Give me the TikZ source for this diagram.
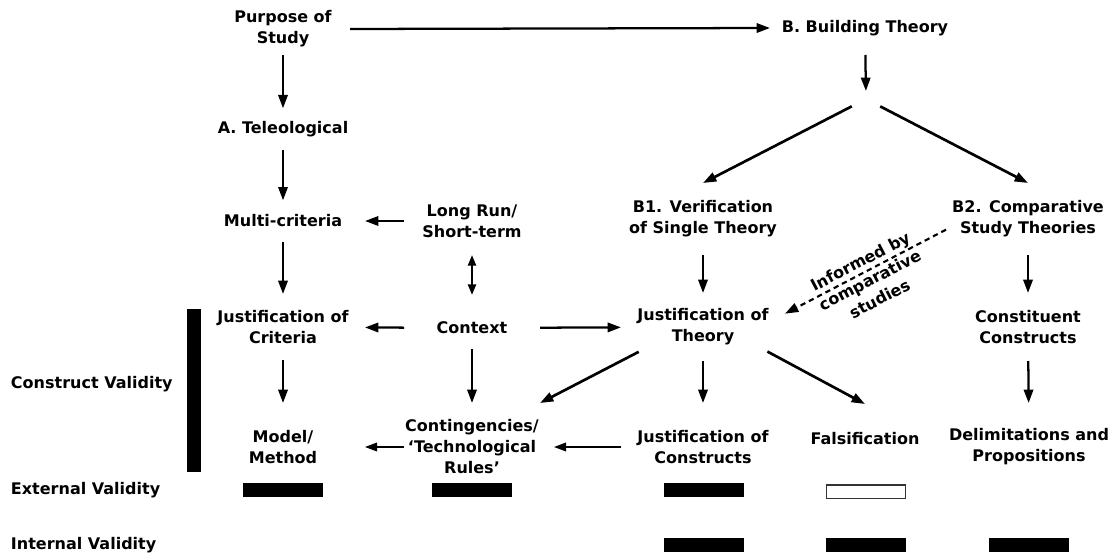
\documentclass[tikz,border=0pt]{standalone}
\usepackage{fontspec}
\setmainfont{DejaVu Sans}
\usetikzlibrary{arrows.meta}

\begin{document}
\begin{tikzpicture}[
			x = 0.75pt, y = -0.75pt,
			every node/.style = {font = \bfseries\fontsize{12pt}{15.75pt}\selectfont, align = center, inner sep = 0pt, outer sep = 0pt},
			col/.style = {minimum width = 123pt},
			mid/.style = {minimum width = 102pt},
			arr/.style = {-{Triangle[length = 10pt, width = 7pt]}, line width = 1.7pt},
			thinarr/.style = {-{Triangle[length = 9pt, width = 6.5pt]}, line width = 1pt},
			twoway/.style = {{Triangle[length = 8pt, width = 6pt]}-{Triangle[length = 8pt, width = 6pt]}, line width = 1.7pt},
			diag/.style = {arr, line width = 2pt},
			hint/.style = {arr, line width = 1.6pt, dash pattern = on 4pt off 3pt},
			bar/.style = {fill = black, minimum width = 60pt, minimum height = 10.5pt}]
			\useasboundingbox (0,0) rectangle (1116,556);

			\node[minimum width = 100.5pt, minimum height = 39pt] (purpose) at (283,29) {Purpose of\\Study};
			\node[minimum width = 142.5pt, minimum height = 40.5pt] (building) at (865,28) {B. Building Theory};
			\coordinate (split) at (866,99);
			\node[col, minimum height = 31pt] (tele) at (283,129) {A. Teleological};
			\node[col, minimum height = 31pt] (multi) at (283,221) {Multi-criteria};
			\node[mid, minimum height = 51pt] (longrun) at (472,221) {Long Run/\\Short-term};
			\node[col, minimum height = 54pt] (single) at (703,219) {B1. Verification\\of Single Theory};
			\node[col, minimum height = 54pt] (compare) at (1028,219) {B2. Comparative\\Study Theories};
			\node[col, minimum height = 49.5pt] (jcrit) at (283,327) {Justification of\\Criteria};
			\node[mid, minimum height = 49.5pt] (context) at (472,328) {Context};
			\node[col, minimum height = 51pt] (jtheory) at (703,327) {Justification of\\Theory};
			\node[col, minimum height = 51pt] (constit) at (1028,327) {Constituent\\Constructs};
			\node[col, minimum height = 66pt] (model) at (283,447) {Model/\\Method};
			\node[mid, minimum height = 66pt] (conting) at (472,447) {Contingencies/\\‘Technological\\Rules’};
			\node[col, minimum height = 66pt] (jcons) at (703,447) {Justification of\\Constructs};
			\node[col, minimum height = 52.5pt] (falsif) at (865,439) {Falsification};
			\node[col, minimum height = 66pt] (delim) at (1029,447) {Delimitations and\\Propositions};

			\draw[arr] (purpose.east) -- (building.west);
			\draw[arr, shorten >= 6pt] (building) -- (split);
			\draw[diag, shorten <= 12pt] (split) -- (single.north);
			\draw[diag, shorten <= 12pt] (split) -- (compare.north);
			\draw[arr] (purpose) -- (tele);
			\draw[arr] (tele) -- (multi);
			\draw[arr] (multi) -- (jcrit);
			\draw[arr] (jcrit) -- (model);
			\draw[arr] (longrun) -- (multi);
			\draw[twoway] (longrun) -- (context);
			\draw[arr] (context) -- (jcrit);
			\draw[arr] (context) -- (jtheory);
			\draw[arr, shorten <= -9pt] (context) -- (conting);
			\draw[thinarr] (conting) -- (model);
			\draw[thinarr, shorten >= 10.5pt] (jcons) -- (conting);
			\draw[arr] (single) -- (jtheory);
			\draw[arr] (compare) -- (constit);
			\draw[arr] (jtheory) -- (jcons);
			\draw[arr] (constit) -- (delim);
			\draw[diag, shorten <= -15pt] (jtheory.south west) -- (conting.north east);
			\draw[diag, shorten <= -15pt] (jtheory.south east) -- (falsif.north);
			\draw[hint] ([yshift = -8pt]compare.west) -- node[sloped, yshift = -7pt] (informed) {Informed by\\comparative\\studies} ([yshift = 10pt]jtheory.east);

			% Validity
			\node[anchor = west] (construct) at (11,384) {Construct Validity};
			\node[anchor = west] (external) at (11,490) {External Validity};
			\node[anchor = west] (internal) at (11,545) {Internal Validity};
			\node[bar, minimum width = 10.5pt, minimum height = 122pt] (cbar) at (194,390.5) {};
			\node[bar] (ext1) at (282.5,490) {};
			\node[bar] (ext2) at (471.5,490) {};
			\node[bar] (ext3) at (703.5,490) {};
			\node[bar, fill = white, draw = black!80, line width = 1pt, minimum width = 59pt, minimum height = 10pt] (ext4) at (866,491.5) {};
			\node[bar] (int1) at (703.5,544.5) {};
			\node[bar] (int2) at (866,544.5) {};
			\node[bar] (int3) at (1029,544.5) {};
		\end{tikzpicture}
\end{document}
